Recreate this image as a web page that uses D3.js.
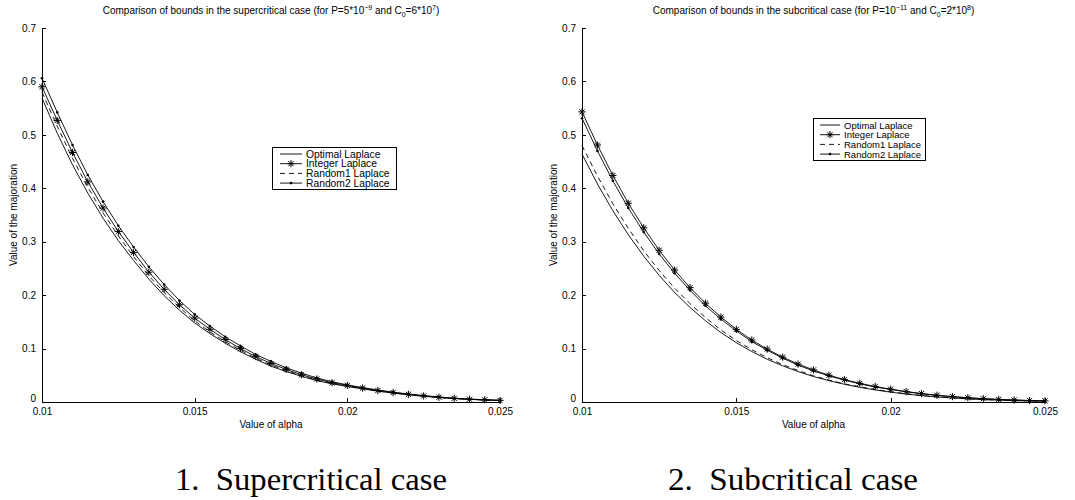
<!DOCTYPE html>
<html>
<head>
<meta charset="utf-8">
<script src="https://cdn.jsdelivr.net/npm/d3@7/dist/d3.min.js"></script>
<style>
    body { margin: 0; background: #fff; }
    svg { display: block; }
    .axis text { font-family: "Liberation Sans", Arial, sans-serif; font-size: 10px; fill: #000; }
    .axis path, .axis line { stroke: #000; stroke-width: 1; shape-rendering: crispEdges; }
    .label { font-family: "Liberation Sans", Arial, sans-serif; font-size: 10px; fill: #000; }
    .caption { font-family: "Liberation Serif", "Times New Roman", serif; font-size: 31px; fill: #000; white-space: pre; }
</style>
</head>
<body>
<div id="chart"></div>
<script>

// Values of alpha (x axis), shared by both panels
var alpha = [0.01, 0.0105, 0.011, 0.0115, 0.012, 0.0125, 0.013, 0.0135, 0.014, 0.0145,
    0.015, 0.0155, 0.016, 0.0165, 0.017, 0.0175, 0.018, 0.0185, 0.019, 0.0195,
    0.02, 0.0205, 0.021, 0.0215, 0.022, 0.0225, 0.023, 0.0235, 0.024, 0.0245, 0.025];

var xTicks = [0.01, 0.015, 0.02, 0.025];
var yTicks = [0, 0.1, 0.2, 0.3, 0.4, 0.5, 0.6, 0.7];

var seriesNames = ['Optimal Laplace', 'Integer Laplace', 'Random1 Laplace', 'Random2 Laplace'];

// Supercritical case (P=5*10^-9, C0=6*10^7)
var superOptimal = [0.569, 0.503, 0.444, 0.391, 0.344, 0.302, 0.265, 0.230, 0.199, 0.172,
    0.148, 0.128, 0.110, 0.094, 0.080, 0.067, 0.057, 0.048, 0.040, 0.034,
    0.029, 0.0245, 0.0202, 0.0166, 0.0134, 0.0107, 0.0083, 0.0064, 0.0049, 0.0037, 0.0028];
var superInteger = [0.590, 0.527, 0.467, 0.412, 0.363, 0.319, 0.280, 0.243, 0.211, 0.182,
    0.157, 0.136, 0.117, 0.100, 0.085, 0.072, 0.061, 0.051, 0.043, 0.036,
    0.031, 0.026, 0.0215, 0.0177, 0.0143, 0.0114, 0.0089, 0.0068, 0.0052, 0.0040, 0.0030];
var superRandom1 = [0.580, 0.516, 0.456, 0.402, 0.354, 0.311, 0.272, 0.236, 0.205, 0.177,
    0.152, 0.131, 0.113, 0.097, 0.082, 0.069, 0.059, 0.049, 0.041, 0.035,
    0.030, 0.025, 0.0207, 0.0170, 0.0137, 0.0109, 0.0085, 0.0065, 0.0050, 0.0038, 0.0029];
var superRandom2 = [0.606, 0.542, 0.481, 0.425, 0.375, 0.330, 0.290, 0.253, 0.220, 0.190,
    0.164, 0.142, 0.122, 0.105, 0.089, 0.076, 0.064, 0.054, 0.045, 0.038,
    0.032, 0.027, 0.0225, 0.0185, 0.0150, 0.0120, 0.0094, 0.0072, 0.0055, 0.0042, 0.0032];

// Subcritical case (P=10^-11, C0=2*10^8)
var subOptimal = [0.464, 0.408, 0.358, 0.313, 0.273, 0.237, 0.205, 0.177, 0.152, 0.130,
    0.111, 0.0945, 0.080, 0.0677, 0.057, 0.0476, 0.040, 0.0332, 0.0275, 0.0226,
    0.0184, 0.0149, 0.0119, 0.0095, 0.0075, 0.0058, 0.0045, 0.0034, 0.0026, 0.0019, 0.0015];
var subInteger = [0.543, 0.481, 0.424, 0.372, 0.326, 0.284, 0.247, 0.214, 0.185, 0.159,
    0.136, 0.116, 0.099, 0.084, 0.071, 0.060, 0.050, 0.042, 0.035, 0.029,
    0.024, 0.0195, 0.0158, 0.0127, 0.0101, 0.0080, 0.0062, 0.0048, 0.0037, 0.0028, 0.0021];
var subRandom1 = [0.480, 0.423, 0.371, 0.325, 0.283, 0.246, 0.213, 0.184, 0.158, 0.135,
    0.115, 0.098, 0.083, 0.070, 0.059, 0.049, 0.041, 0.034, 0.0285, 0.0235,
    0.0191, 0.0155, 0.0124, 0.0099, 0.0078, 0.0060, 0.0047, 0.0036, 0.0027, 0.0020, 0.0016];
var subRandom2 = [0.531, 0.470, 0.414, 0.363, 0.318, 0.277, 0.241, 0.209, 0.180, 0.155,
    0.133, 0.113, 0.097, 0.082, 0.069, 0.058, 0.049, 0.041, 0.034, 0.028,
    0.0235, 0.0191, 0.0155, 0.0124, 0.0099, 0.0078, 0.0061, 0.0047, 0.0036, 0.0027, 0.0020];

var width = 1075;
var height = 500;

var svg = d3.select('#chart').append('svg')
    .attr('width', width)
    .attr('height', height);

/**
 * Path for a matlab style '*' marker centred on 0,0.
 */
function starPath(r) {
    var d = r * 0.72;
    return 'M' + (-r) + ',0H' + r +
        'M0,' + (-r) + 'V' + r +
        'M' + (-d) + ',' + (-d) + 'L' + d + ',' + d +
        'M' + (-d) + ',' + d + 'L' + d + ',' + (-d);
}

/**
 * Draw the marker of the given style at each of the points.
 */
function drawMarkers(selection, points, marker) {
    if (marker == 'star') {
        selection.selectAll(null)
            .data(points)
        .enter().append('path')
            .attr('transform', function (d) { return 'translate(' + d[0] + ',' + d[1] + ')'; })
            .attr('d', starPath(3.6))
            .style('fill', 'none')
            .style('stroke', '#000')
            .style('stroke-width', 1);
    } else if (marker == 'dot') {
        selection.selectAll(null)
            .data(points)
        .enter().append('circle')
            .attr('cx', function (d) { return d[0]; })
            .attr('cy', function (d) { return d[1]; })
            .attr('r', 1.3)
            .style('fill', '#000');
    }
}

/**
 * Title with superscripts and subscripts, given as a list of [text, shift] parts.
 */
function drawTitle(selection, cx, parts) {
    var text = selection.append('text')
        .attr('class', 'label')
        .attr('x', cx)
        .attr('y', 14)
        .attr('text-anchor', 'middle');
    parts.forEach(function (p) {
        var t = text.append('tspan').text(p[0]);
        if (p[1] == 'sup') {
            t.attr('dy', -4).style('font-size', '7px');
        } else if (p[1] == 'sub') {
            t.attr('dy', 3).style('font-size', '7px');
        } else if (p[1] == 'back-sup') {
            t.attr('dy', 4);
        } else if (p[1] == 'back-sub') {
            t.attr('dy', -3);
        }
    });
}

function drawPanel(opts) {
    var g = svg.append('g');

    var x = d3.scaleLinear().domain([0.01, 0.025]).range([opts.left, opts.right]);
    var y = d3.scaleLinear().domain([0, 0.7]).range([402, 28]);

    var xAxis = d3.axisBottom(x)
        .tickValues(xTicks)
        .tickSize(-4)
        .tickSizeOuter(0)
        .tickPadding(6)
        .tickFormat(function (d) { return String(+d.toFixed(3)); });

    var yAxis = d3.axisLeft(y)
        .tickValues(yTicks)
        .tickSize(-4)
        .tickSizeOuter(0)
        .tickPadding(6)
        .tickFormat(function (d) { return String(+d.toFixed(1)); });

    g.append('g')
        .attr('class', 'x axis')
        .attr('transform', 'translate(0,' + y(0) + ')')
        .call(xAxis);

    var yg = g.append('g')
        .attr('class', 'y axis')
        .attr('transform', 'translate(' + x(0.01) + ',0)')
        .call(yAxis);

    // the "0" label sits a little above the x axis labels
    yg.selectAll('.tick text')
        .filter(function (d) { return d === 0; })
        .attr('dy', '-0.05em');

    g.selectAll('.axis .domain').style('stroke-width', 1.2);

    // curves
    var line = d3.line()
        .x(function (d) { return x(d[0]); })
        .y(function (d) { return y(d[1]); });

    opts.series.forEach(function (s) {
        var points = alpha.map(function (a, i) { return [a, s.values[i]]; });
        g.append('path')
            .datum(points)
            .attr('d', line)
            .style('fill', 'none')
            .style('stroke', '#000')
            .style('stroke-width', 0.9)
            .style('stroke-dasharray', s.dash ? '5,4' : null);
        drawMarkers(g, points.map(function (d) { return [x(d[0]), y(d[1])]; }), s.marker);
    });

    // axis labels
    g.append('text')
        .attr('class', 'label')
        .attr('x', (opts.left + opts.right) / 2)
        .attr('y', 428)
        .attr('text-anchor', 'middle')
        .text('Value of alpha');

    g.append('text')
        .attr('class', 'label')
        .attr('transform', 'translate(' + (opts.left - 25) + ',215) rotate(-90)')
        .attr('text-anchor', 'middle')
        .text('Value of the majoration');

    drawTitle(g, (opts.left + opts.right) / 2, opts.title);

    // legend
    var lg = opts.legend;
    var legend = g.append('g')
        .attr('transform', 'translate(' + lg.x + ',' + lg.y + ')');
    legend.append('rect')
        .attr('width', lg.w)
        .attr('height', lg.h)
        .style('fill', '#fff')
        .style('stroke', '#000')
        .style('stroke-width', 1)
        .style('shape-rendering', 'crispEdges');
    opts.series.forEach(function (s, i) {
        var cy = 7 + i * lg.step;
        legend.append('line')
            .attr('x1', lg.lineX0)
            .attr('x2', lg.lineX1)
            .attr('y1', cy)
            .attr('y2', cy)
            .style('stroke', '#000')
            .style('stroke-width', 0.9)
            .style('stroke-dasharray', s.dash ? '5,4' : null);
        drawMarkers(legend, [[(lg.lineX0 + lg.lineX1) / 2, cy]], s.marker);
        legend.append('text')
            .attr('class', 'label')
            .attr('x', lg.textX)
            .attr('y', cy + 3.5)
            .style('font-size', lg.fontSize + 'px')
            .text(s.name);
    });

    // caption under the panel
    svg.append('text')
        .attr('class', 'caption')
        .attr('x', opts.captionX)
        .attr('y', 490)
        .attr('textLength', opts.captionW)
        .attr('lengthAdjust', 'spacingAndGlyphs')
        .text(opts.caption);
}

function seriesList(optimal, integer, random1, random2) {
    return [
        {name: seriesNames[0], values: optimal, dash: false, marker: null},
        {name: seriesNames[1], values: integer, dash: false, marker: 'star'},
        {name: seriesNames[2], values: random1, dash: true, marker: null},
        {name: seriesNames[3], values: random2, dash: false, marker: 'dot'}
    ];
}

drawPanel({
    left: 42,
    right: 500,
    series: seriesList(superOptimal, superInteger, superRandom1, superRandom2),
    title: [['Comparison of bounds in the supercritical case (for P=5*10'], ['\u22129', 'sup'],
        [' and C', 'back-sup'], ['0', 'sub'], ['=6*10', 'back-sub'], ['7', 'sup'], [')', 'back-sup']],
    legend: {x: 272, y: 147, w: 124, h: 42, step: 9.7, lineX0: 8, lineX1: 30, textX: 34, fontSize: 10.3},
    caption: '1.  Supercritical case',
    captionX: 175,
    captionW: 272
});

drawPanel({
    left: 582,
    right: 1045,
    series: seriesList(subOptimal, subInteger, subRandom1, subRandom2),
    title: [['Comparison of bounds in the subcritical case (for P=10'], ['\u221211', 'sup'],
        [' and C', 'back-sup'], ['0', 'sub'], ['=2*10', 'back-sub'], ['8', 'sup'], [')', 'back-sup']],
    legend: {x: 813, y: 118, w: 112, h: 42, step: 9.7, lineX0: 7, lineX1: 27, textX: 31, fontSize: 9.5},
    caption: '2.  Subcritical case',
    captionX: 668,
    captionW: 250
});

</script>
</body>
</html>
